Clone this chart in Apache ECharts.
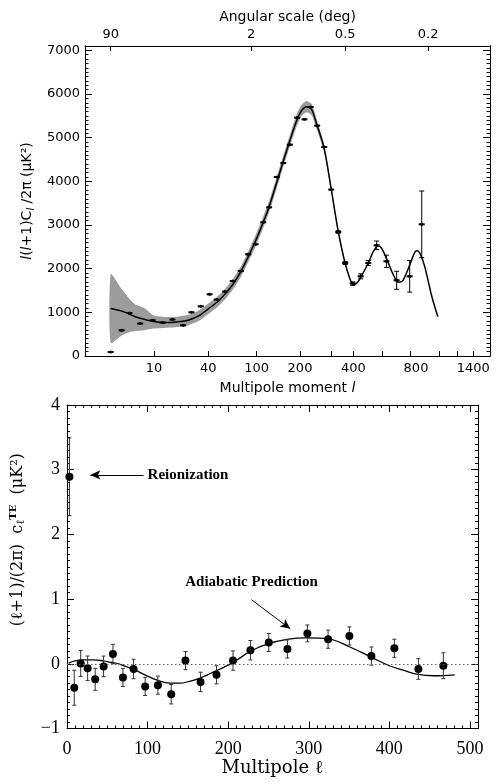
<!DOCTYPE html>
<html><head><meta charset="utf-8">
<script src="https://cdn.jsdelivr.net/npm/echarts@6/dist/echarts.min.js"></script>
<style>html,body{margin:0;padding:0;background:#fff}#c{width:496px;height:784px}</style>
</head><body><div id="c"></div>
<script>
// ---------- TOP PANEL (TT) DATA ----------
const ttModelL = [2,3,4,5,7,10,13,17,22,27,33,40,47,55,64,74,85,98,110,122,138,153,170,190,204,218,233,248,273,299,328,360,392,405,420,434,472,500,524,545,579,620,658,690,743,790,810,840,873,932,990];
const ttModelV = [1090,1030,960,900,840,790,770,775,800,860,950,1080,1230,1420,1650,1930,2270,2640,3030,3420,3980,4460,4930,5400,5620,5710,5640,5320,4780,3870,2880,2120,1665,1645,1690,1800,2130,2400,2520,2480,2220,1880,1690,1720,2060,2380,2410,2300,2030,1380,900];
const bandL    = [2,3,4,5,7,10,13,17,22,27,33,40,47,55,64,74,85,98,110,122,138,153,170,190,204,218,233,248,273,299,328,360,392,420];
const bandLow  = [300,470,545,570,590,627,641,656,680,745,830,960,1110,1300,1530,1810,2150,2510,2900,3290,3850,4330,4800,5260,5490,5580,5510,5210,4690,3810,2840,2095,1645,1680];
const bandHigh = [1880,1535,1314,1180,1100,925,893,893,925,975,1070,1200,1350,1540,1770,2050,2390,2770,3160,3550,4110,4590,5060,5540,5750,5840,5770,5430,4870,3930,2920,2145,1685,1700];
const ttL   = [2,3,4,6,9.5,12.5,16,21,26,33,41,47,55,63.5,74,85,98,111,122,138,153,170,191,212,230,250,274,300,329,360,397,434,472,518,577,646,746,846];
const ttV   = [92,589,985,742,818,765,834,703,1001,1138,1413,1292,1475,1718,1947,2329,2558,3062,3405,4099,4420,4841,5459,5420,5702,5276,4786,3811,2840,2130,1658,1825,2130,2535,2169,1734,1825,3016];
const ttErr = [0,0,0,0,0,0,0,0,0,0,0,0,0,0,0,0,0,0,0,0,0,0,0,0,0,0,0,0,30,35,40,57,57,98,140,206,362,763];
const ttTickLabels = [10,40,100,200,400,800,1400];
const ttTicks = [10,40,100,200,300,400,550,750,1000,1200,1400];
const angLabels = [90,2,0.5,0.2];
const ttYLabels = [0,1000,2000,3000,4000,5000,6000,7000];

// ---------- BOTTOM PANEL (TE) DATA ----------
const teModelL = [2,10,20,33,45,55,64,83,100,111,128,140,152,165,178,190,200,210,227,250,275,297,324,351,378,400,420,434,455,481];
const teModelV = [0.01,0.045,0.062,0.062,0.045,0.02,0.0,-0.09,-0.19,-0.25,-0.3,-0.3,-0.27,-0.22,-0.15,-0.08,-0.02,0.05,0.19,0.31,0.38,0.4,0.385,0.26,0.1,-0.03,-0.11,-0.16,-0.185,-0.17];
const teL   = [3,9,17,25.6,35,45.4,57,69.4,82.6,97,112.8,129.3,147,165.7,185.5,206,227.6,250.4,273.5,298.3,324,350.4,377.7,406.2,436,467];
const teV   = [2.89,-0.37,0.005,-0.07,-0.24,-0.04,0.15,-0.21,-0.08,-0.35,-0.33,-0.47,0.05,-0.28,-0.17,0.05,0.21,0.33,0.23,0.47,0.38,0.43,0.12,0.24,-0.08,-0.03];
const teErr = [0.6,0.27,0.2,0.19,0.17,0.16,0.15,0.14,0.15,0.14,0.14,0.15,0.14,0.15,0.14,0.15,0.15,0.14,0.14,0.13,0.14,0.14,0.14,0.14,0.16,0.2];

// ---------- multipole axis scale (log-piecewise) ----------
const KNOT_L = [2,10,40,100,200,400,800,1400];
const KNOT_U = [25.7,69,123.3,171.7,215,268.3,331,388.3];
function lToU(l){
  let i = 0;
  if (l <= KNOT_L[0]) i = 0;
  else if (l >= KNOT_L[KNOT_L.length-1]) i = KNOT_L.length-2;
  else { while (!(l >= KNOT_L[i] && l <= KNOT_L[i+1])) i++; }
  const f = Math.log(l/KNOT_L[i]) / Math.log(KNOT_L[i+1]/KNOT_L[i]);
  return KNOT_U[i] + f*(KNOT_U[i+1]-KNOT_U[i]);
}
const U_MAX = 405;
const ttTickU = ttTicks.map(lToU);
const ttLabelU = ttTickLabels.map(lToU);
const angU = angLabels.map(a => lToU(180/a));
const minor100 = []; for (let v = 0; v <= 7100; v += 100) minor100.push(v);

function nearestLabel(val, us, labs){
  let best = 0, d = 1e9;
  us.forEach((u,i)=>{ if (Math.abs(u-val) < d){ d = Math.abs(u-val); best = i; } });
  return String(labs[best]);
}

const sansFont = 'DejaVu Sans';
const serifFont = 'Liberation Serif';

function bandRender(params, api){
  const pts = [];
  bandL.forEach((l,i)=>pts.push(api.coord([lToU(l), bandHigh[i]])));
  for (let i = bandL.length-1; i >= 0; i--) pts.push(api.coord([lToU(bandL[i]), bandLow[i]]));
  return {type:'polygon', shape:{points: pts, smooth: 0.2}, style:{fill:'#9c9c9c'}};
}
function ttRender(params, api){
  const u = api.value(0), v = api.value(1), e = api.value(2);
  const c = api.coord([u, v]);
  const ch = [];
  if (e > 0){
    const t = api.coord([u, v+e]), b = api.coord([u, v-e]);
    const st = {stroke:'#000', lineWidth:1};
    ch.push({type:'line', shape:{x1:c[0],y1:t[1],x2:c[0],y2:b[1]}, style:st});
    ch.push({type:'line', shape:{x1:c[0]-2.5,y1:t[1],x2:c[0]+2.5,y2:t[1]}, style:st});
    ch.push({type:'line', shape:{x1:c[0]-2.5,y1:b[1],x2:c[0]+2.5,y2:b[1]}, style:st});
  }
  ch.push({type:'rect', shape:{x:c[0]-3, y:c[1]-1, width:6, height:2}, style:{fill:'#000'}});
  ch.push({type:'circle', shape:{cx:c[0], cy:c[1], r:1.5}, style:{fill:'#000'}});
  return {type:'group', children: ch};
}
function teRender(params, api){
  const x = api.value(0), v = api.value(1), e = api.value(2);
  const c = api.coord([x, v]);
  const t = api.coord([x, v+e]), b = api.coord([x, v-e]);
  const st = {stroke:'#333', lineWidth:1};
  return {type:'group', children:[
    {type:'line', shape:{x1:c[0],y1:t[1],x2:c[0],y2:b[1]}, style:st},
    {type:'line', shape:{x1:c[0]-2,y1:t[1],x2:c[0]+2,y2:t[1]}, style:st},
    {type:'line', shape:{x1:c[0]-2,y1:b[1],x2:c[0]+2,y2:b[1]}, style:st},
    {type:'circle', shape:{cx:c[0], cy:c[1], r:4}, style:{fill:'#000'}}
  ]};
}

const axLine = {show:true, onZero:false, lineStyle:{color:'#000', width:1}};
const chart = echarts.init(document.getElementById('c'), null, {renderer:'canvas'});
chart.setOption({
  animation: false,
  backgroundColor: '#fff',
  grid: [
    {left:85, top:46, width:405, height:310},
    {left:67, top:405, width:411, height:323.5}
  ],
  xAxis: [
    {gridIndex:0, type:'value', min:0, max:U_MAX, position:'bottom',
     axisLine:axLine, splitLine:{show:false},
     axisTick:{show:true, inside:true, length:5, customValues: ttTickU, lineStyle:{color:'#000'}},
     axisLabel:{show:true, customValues: ttLabelU, margin:6, color:'#000', fontFamily:sansFont, fontSize:13,
       formatter: v => nearestLabel(v, ttLabelU, ttTickLabels)},
     name:'Multipole moment {it|l}', nameLocation:'middle', nameGap:25,
     nameTextStyle:{color:'#000', fontFamily:sansFont, fontSize:14, rich:{it:{fontStyle:'italic', fontFamily:sansFont, fontSize:14}}}},
    {gridIndex:0, type:'value', min:0, max:U_MAX, position:'top',
     axisLine:axLine, splitLine:{show:false},
     axisTick:{show:true, inside:true, length:5, customValues: angU, lineStyle:{color:'#000'}},
     axisLabel:{show:true, customValues: angU, margin:5, color:'#000', fontFamily:sansFont, fontSize:13,
       formatter: v => nearestLabel(v, angU, angLabels)},
     name:'Angular scale (deg)', nameLocation:'middle', nameGap:22,
     nameTextStyle:{color:'#000', fontFamily:sansFont, fontSize:14}},
    {gridIndex:1, type:'value', min:0, max:510, interval:100, position:'bottom',
     axisLine:axLine, splitLine:{show:false},
     axisTick:{show:true, inside:true, length:7, lineStyle:{color:'#000'}},
     minorTick:{show:true, splitNumber:10, length:3, lineStyle:{color:'#000'}},
     axisLabel:{show:true, margin:12, color:'#000', fontFamily:serifFont, fontSize:18, showMaxLabel:false},
     name:'Multipole ℓ', nameLocation:'middle', nameGap:27,
     nameTextStyle:{color:'#000', fontFamily:'DejaVu Serif', fontSize:18}},
    {gridIndex:1, type:'value', min:0, max:510, interval:100, position:'top',
     axisLine:axLine, splitLine:{show:false},
     axisTick:{show:true, inside:true, length:7, lineStyle:{color:'#000'}},
     minorTick:{show:true, splitNumber:10, length:3, lineStyle:{color:'#000'}},
     axisLabel:{show:false}}
  ],
  yAxis: [
    {gridIndex:0, type:'value', min:0, max:7100, position:'left',
     axisLine:axLine, splitLine:{show:false},
     axisTick:{show:true, inside:true, length:7, customValues: ttYLabels, lineStyle:{color:'#000'}},
     axisLabel:{show:true, customValues: ttYLabels, margin:5, color:'#000', fontFamily:sansFont, fontSize:13,
       formatter: v => String(Math.round(v))},
     name:'{it|l}({it|l}+1)C{sub|l} /2π (μK²)', nameLocation:'middle', nameGap:49, nameRotate:90,
     nameTextStyle:{color:'#000', fontFamily:sansFont, fontSize:14,
       rich:{it:{fontStyle:'italic', fontFamily:sansFont, fontSize:14},
             sub:{fontStyle:'italic', fontFamily:sansFont, fontSize:10, verticalAlign:'bottom', padding:[7,0,0,0]}}}},
    {gridIndex:0, type:'value', min:0, max:7100, position:'left',
     axisLine:axLine, splitLine:{show:false},
     axisTick:{show:true, inside:true, length:3.5, customValues: minor100, lineStyle:{color:'#000'}},
     axisLabel:{show:false}},
    {gridIndex:0, type:'value', min:0, max:7100, position:'right',
     axisLine:axLine, splitLine:{show:false},
     axisTick:{show:true, inside:true, length:7, customValues: ttYLabels, lineStyle:{color:'#000'}},
     axisLabel:{show:false}},
    {gridIndex:0, type:'value', min:0, max:7100, position:'right',
     axisLine:axLine, splitLine:{show:false},
     axisTick:{show:true, inside:true, length:3.5, customValues: minor100, lineStyle:{color:'#000'}},
     axisLabel:{show:false}},
    {gridIndex:1, type:'value', min:-1, max:4, interval:1, position:'left',
     axisLine:axLine, splitLine:{show:false},
     axisTick:{show:true, inside:true, length:7, lineStyle:{color:'#000'}},
     minorTick:{show:true, splitNumber:10, length:3, lineStyle:{color:'#000'}},
     axisLabel:{show:true, margin:7, color:'#000', fontFamily:serifFont, fontSize:18,
       formatter: v => String(v).replace('-', '−')},
     name:'(ℓ+1)/(2π)  c{sub|ℓ}{sup|TE}  (μK²)', nameLocation:'middle', nameGap:40, nameRotate:90,
     nameTextStyle:{color:'#000', fontFamily:'DejaVu Serif', fontSize:16, padding:[0,0,0,54],
       rich:{sub:{fontFamily:'DejaVu Serif', fontSize:11, verticalAlign:'bottom', padding:[8,0,0,0]},
             sup:{fontFamily:'DejaVu Serif', fontSize:10, fontWeight:'bold', verticalAlign:'top', padding:[0,0,8,0]}}}},
    {gridIndex:1, type:'value', min:-1, max:4, interval:1, position:'right',
     axisLine:axLine, splitLine:{show:false},
     axisTick:{show:true, inside:true, length:7, lineStyle:{color:'#000'}},
     minorTick:{show:true, splitNumber:10, length:3, lineStyle:{color:'#000'}},
     axisLabel:{show:false}}
  ],
  series: [
    {type:'custom', name:'band', xAxisIndex:0, yAxisIndex:0, clip:true, z:1,
     encode:{x:0, y:1}, data:[[lToU(bandL[0]), bandLow[0]]], renderItem: bandRender, silent:true},
    {type:'line', name:'TT model', xAxisIndex:0, yAxisIndex:0, z:3, smooth:0.3, symbol:'none',
     lineStyle:{color:'#000', width:1.5},
     data: ttModelL.map((l,i)=>[lToU(l), ttModelV[i]])},
    {type:'custom', name:'TT data', xAxisIndex:0, yAxisIndex:0, z:4,
     encode:{x:0, y:1}, renderItem: ttRender,
     data: ttL.map((l,i)=>[lToU(l), ttV[i], ttErr[i]])},
    {type:'line', name:'TE model', xAxisIndex:2, yAxisIndex:4, z:3, smooth:0.4, symbol:'none',
     lineStyle:{color:'#000', width:1.3},
     data: teModelL.map((l,i)=>[l, teModelV[i]]),
     markLine:{silent:true, animation:false, symbol:['none','arrow'], symbolSize:[7,10],
       label:{show:false},
       data:[
         [{coord:[95,2.92], lineStyle:{color:'#000', width:1, type:'solid'}}, {coord:[29,2.92]}],
         [{coord:[229,0.99], lineStyle:{color:'#000', width:1, type:'solid'}}, {coord:[277,0.54]}]
       ]},
     markPoint:{silent:true, animation:false, symbol:'circle', symbolSize:0,
       data:[
         {coord:[100,2.92], label:{show:true, position:'right', distance:0, formatter:'Reionization',
           color:'#000', fontFamily:serifFont, fontWeight:'bold', fontSize:15}},
         {coord:[229,1.27], label:{show:true, position:'inside', formatter:'Adiabatic Prediction',
           color:'#000', fontFamily:serifFont, fontWeight:'bold', fontSize:15}}
       ]}},
    {type:'custom', name:'TE data', xAxisIndex:2, yAxisIndex:4, z:4,
     encode:{x:0, y:1}, renderItem: teRender,
     data: teL.map((l,i)=>[l, teV[i], teErr[i]]),
     markLine:{silent:true, animation:false, symbol:['none','none'], label:{show:false},
       lineStyle:{color:'#666', width:1.2, type:[1.5,2.5]},
       data:[{yAxis:0}]}}
  ]
});
</script></body></html>
